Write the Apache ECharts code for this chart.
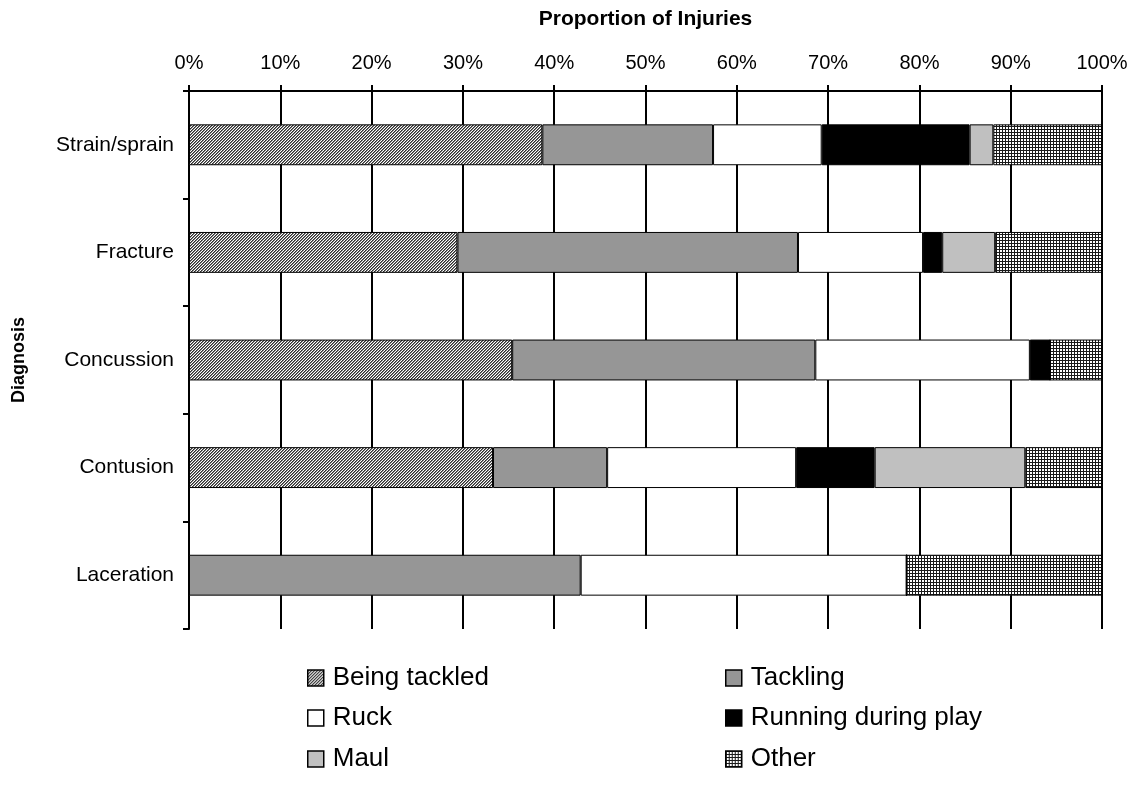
<!DOCTYPE html>
<html>
<head>
<meta charset="utf-8">
<script src="https://cdn.jsdelivr.net/npm/echarts@6/dist/echarts.min.js"></script>
<style>
html,body{margin:0;padding:0;background:#fff;}
#chart{width:1137px;height:786px;}
</style>
</head>
<body>
<div id="chart"></div>
<script>
var categories = ['Strain/sprain', 'Fracture', 'Concussion', 'Contusion', 'Laceration'];
var beingTackled = [38.7, 29.4, 35.4, 33.3, 0];
var tackling = [18.7, 37.3, 33.2, 12.5, 42.9];
var ruck = [11.9, 13.7, 23.5, 20.7, 35.7];
var runningDuringPlay = [16.2, 2.1, 2.2, 8.6, 0];
var maul = [2.6, 5.8, 0, 16.5, 0];
var other = [11.9, 11.7, 5.7, 8.4, 21.4];
var seriesNames = ['Being tackled', 'Tackling', 'Ruck', 'Running during play', 'Maul', 'Other'];

function hatchPattern() {
  var c = document.createElement('canvas');
  c.width = 3; c.height = 3;
  var ctx = c.getContext('2d');
  var shades = ['#2e2e2e', '#808080', '#ffffff'];
  for (var x = 0; x < 3; x++) {
    for (var y = 0; y < 3; y++) {
      ctx.fillStyle = shades[(x + y) % 3];
      ctx.fillRect(x, y, 1, 1);
    }
  }
  return { image: c, repeat: 'repeat' };
}
function gridPattern() {
  var c = document.createElement('canvas');
  c.width = 3; c.height = 3;
  var ctx = c.getContext('2d');
  ctx.fillStyle = '#ffffff';
  ctx.fillRect(0, 0, 3, 3);
  ctx.fillStyle = '#1a1a1a';
  ctx.fillRect(0, 0, 3, 1);
  ctx.fillRect(0, 0, 1, 3);
  return { image: c, repeat: 'repeat' };
}

var fills = [hatchPattern(), '#969696', '#ffffff', '#000000', '#c0c0c0', gridPattern()];
var values = [beingTackled, tackling, ruck, runningDuringPlay, maul, other];
var FONT = 'Liberation Sans, Arial, sans-serif';

var series = seriesNames.map(function (n, i) {
  return {
    name: n,
    type: 'bar',
    stack: 'total',
    barWidth: '38%',
    data: values[i],
    itemStyle: { color: fills[i], borderColor: '#000', borderWidth: 1 },
    emphasis: { disabled: true },
    animation: false
  };
});

var legendPos = [
  { left: 307, top: 665 }, { left: 725, top: 665 },
  { left: 307, top: 705 }, { left: 725, top: 705 },
  { left: 307, top: 746 }, { left: 725, top: 746 }
];
var legends = seriesNames.map(function (n, i) {
  return {
    data: [n],
    left: legendPos[i].left,
    top: legendPos[i].top,
    padding: 0,
    itemWidth: 16,
    itemHeight: 16,
    itemGap: 0,
    icon: 'rect',
    selectedMode: false,
    itemStyle: { borderColor: '#000', borderWidth: 1.5 },
    textStyle: { fontFamily: FONT, fontSize: 26, color: '#000', padding: [0, 0, 0, 4] }
  };
});

var chart = echarts.init(document.getElementById('chart'), null, { renderer: 'canvas' });
chart.setOption({
  animation: false,
  backgroundColor: '#fff',
  grid: { left: 189, right: 35, top: 91, bottom: 157, containLabel: false, outerBoundsMode: 'none' },
  legend: legends,
  xAxis: {
    type: 'value',
    position: 'top',
    min: 0, max: 100, interval: 10,
    name: 'Proportion of Injuries',
    nameLocation: 'middle',
    nameGap: 61,
    nameMoveOverlap: false,
    nameTextStyle: { fontFamily: FONT, fontSize: 21, fontWeight: 'bold', color: '#000' },
    axisLine: { show: true, lineStyle: { color: '#000', width: 2 } },
    axisTick: { show: true, inside: false, length: 6, lineStyle: { color: '#000', width: 2 } },
    axisLabel: { formatter: '{value}%', fontFamily: FONT, fontSize: 20, color: '#000', margin: 18 },
    splitLine: { show: true, lineStyle: { color: '#000', width: 2 } }
  },
  yAxis: {
    type: 'category',
    inverse: true,
    data: categories,
    name: 'Diagnosis',
    nameLocation: 'middle',
    nameGap: 161,
    nameMoveOverlap: false,
    nameRotate: 90,
    nameTextStyle: { fontFamily: FONT, fontSize: 18, fontWeight: 'bold', color: '#000' },
    axisLine: { show: true, lineStyle: { color: '#000', width: 2 } },
    axisTick: { show: true, inside: false, length: 6, lineStyle: { color: '#000', width: 2 } },
    axisLabel: { fontFamily: FONT, fontSize: 21, color: '#000', margin: 15 },
    splitLine: { show: false }
  },
  series: series
});
</script>
</body>
</html>
